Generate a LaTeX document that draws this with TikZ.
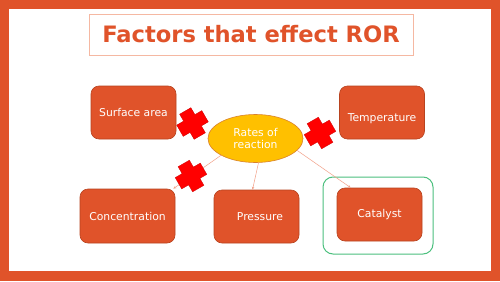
\documentclass[tikz,border=0pt]{standalone}
\usepackage{fontspec}
\setmainfont{DejaVu Sans}
\usetikzlibrary{arrows.meta, shapes.geometric}
\definecolor{framered}{HTML}{E0532A}
\definecolor{boxedge}{HTML}{B8431F}
\definecolor{titleedge}{HTML}{F5B8A2}
\definecolor{linkpink}{HTML}{F2A088}
\definecolor{ratesfill}{HTML}{FFC000}
\definecolor{ratesedge}{HTML}{D9822B}
\definecolor{catgreen}{HTML}{4CC07E}
\definecolor{crossred}{HTML}{FF0000}
\tikzset{redcross/.pic={
  \filldraw[fill=crossred, draw=red!80!black, line width=0.3pt]
    (-14.5,-6.5) -- (-6.5,-6.5) -- (-6.5,-14.5) -- (6.5,-14.5) -- (6.5,-6.5) -- (14.5,-6.5)
    -- (14.5,6.5) -- (6.5,6.5) -- (6.5,14.5) -- (-6.5,14.5) -- (-6.5,6.5) -- (-14.5,6.5) -- cycle;}}

\begin{document}
\begin{tikzpicture}[x=1pt, y=-1pt, >={Stealth[length=3pt,width=2.5pt]},
  factor/.style={rectangle, rounded corners=8pt, draw=boxedge, fill=framered, line width=0.6pt,
    minimum width=85pt, minimum height=53pt, text=white, font=\fontsize{10.8}{13}\selectfont},
  factortext/.style={text=white, font=\fontsize{10.8}{13}\selectfont},
  link/.style={->, draw=linkpink, line width=0.5pt}]
  % frame
  \fill[framered] (0,0) rectangle (500,281);
  \fill[white] (9,9) rectangle (491,271);
  % title
  \node[draw=titleedge, line width=0.6pt, minimum width=324pt, minimum height=41pt,
    text=framered, font=\fontsize{22.6}{26}\bfseries\selectfont] (title) at (251,34.5) {Factors that effect ROR};
  % centre
  \node[ellipse, draw=ratesedge, fill=ratesfill, line width=0.6pt, minimum width=95pt, minimum height=48pt,
    inner sep=0pt, align=center, text=white, font=\fontsize{10.8}{12}\selectfont] (rates) at (255.5,138.5) {Rates of\\reaction};
  % top row
  \node[factor] (surf) at (133.5,112.5) {Surface area};
  \node[factor, label={[factortext, yshift=-6.5pt]center:Temperature}] (temp) at (382,112.5) {};
  % bottom row
  \node[factor, minimum width=95pt, minimum height=54pt] (conc) at (127.5,216) {Concentration};
  \node[factor] (press) at (256.5,216.5) {\hspace{7pt}Pressure};
  \node[factor] (cat) at (379.5,214.5) {Catalyst};
  \node[draw=catgreen, rounded corners=10pt, line width=1pt, minimum width=110pt, minimum height=77pt] (catring) at (378,215.5) {};
  % links
  \draw[link] (rates.-154) -- ([xshift=-2pt]conc.north east);
  \draw[link] ([xshift=3pt]rates.south) -- ([xshift=-4pt]press.north);
  \draw[link] (rates.-16) -- ([xshift=14pt]cat.north west);
  % crosses
  \pic[rotate=30] at (192.5,123.5) {redcross};
  \pic[rotate=30] at (191,176) {redcross};
  \pic[rotate=30] at (320,133) {redcross};
\end{tikzpicture}
\end{document}
